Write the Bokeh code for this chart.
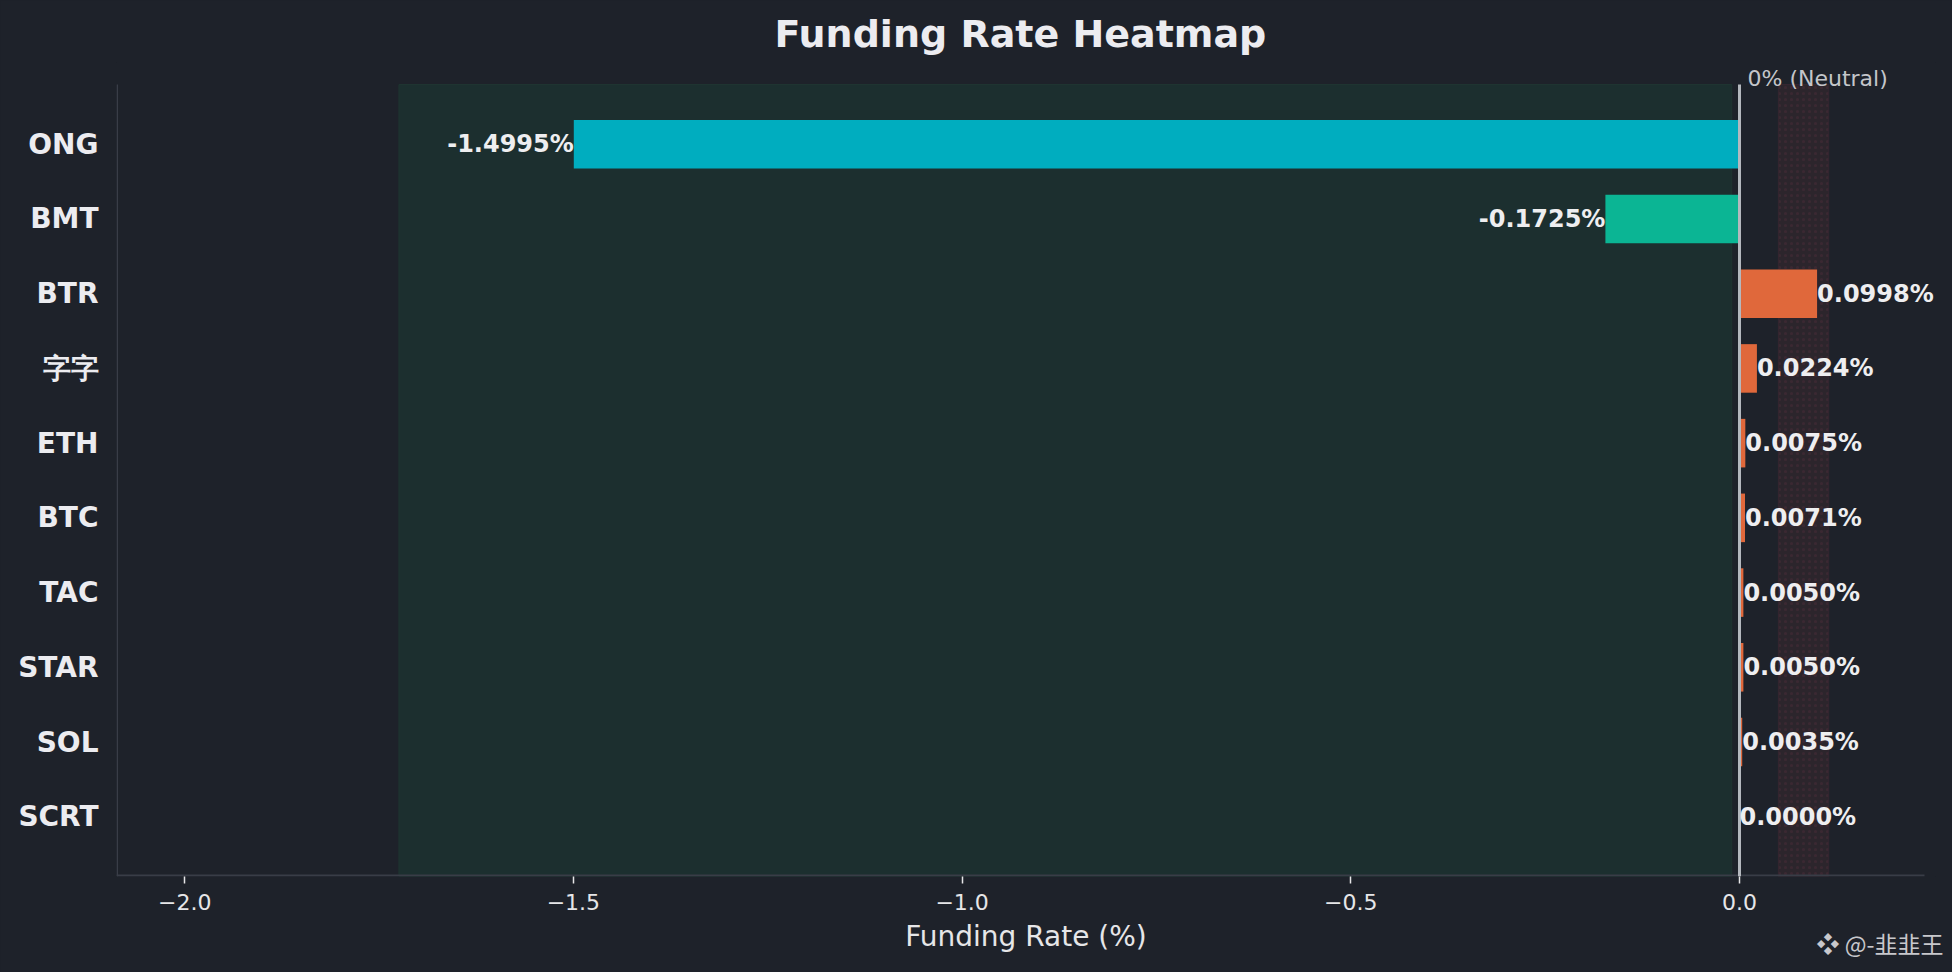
from bokeh.plotting import figure
from bokeh.models import (Range1d, FixedTicker, CustomJSTickFormatter, Title, Label,
                          ColumnDataSource)
from bokeh.core.properties import value
from bokeh.embed import file_html
from bokeh.resources import INLINE

# ---- data ----
symbols = ["ONG", "BMT", "BTR", "字字", "ETH", "BTC", "TAC", "STAR", "SOL", "SCRT"]
rates = [-1.4995, -0.1725, 0.0998, 0.0224, 0.0075, 0.0071, 0.0050, 0.0050, 0.0035, 0.0000]
x_ticks = [-2.0, -1.5, -1.0, -0.5, 0.0]
title_text = "Funding Rate Heatmap"
x_label = "Funding Rate (%)"
neutral_text = "0% (Neutral)"
watermark = "❖ @-韭韭王"

BG = "#1e222a"
FONT = "DejaVu Sans"
SPINE = "#393d47"
n = len(symbols)
ypos = [n - 1 - i for i in range(n)]  # top row first

def bar_color(v):
    if v <= -1.0:
        return "#00adbf"
    if v < 0:
        return "#0bb594"
    return "#e0683b"

colors = [bar_color(v) for v in rates]
labels = [f"{v:.4f}%" for v in rates]
aligns = ["right" if v < 0 else "left" for v in rates]

W, H = 1952, 972
FL, FR, FB = 116, 1935, 876      # frame edges (canvas px)
AX_TOP = 84                      # visible top of the axes box
FT = 62                          # frame top (room for the neutral note)
X0 = 1739                        # canvas x of 0 %
PX = 777.4                       # px per 1 %
x_lo = -(X0 - FL) / PX
x_hi = (FR - X0) / PX
axis_end = 0.238
y_lo, y_hi = -0.8, n - 1 + 0.8
px_per_y = (FB - AX_TOP) / (y_hi - y_lo)
y_top = y_hi + (AX_TOP - FT) / px_per_y

def set_standoff(t, s, fallback):
    try:
        t.standoff = s
    except Exception:
        t.standoff = fallback

p = figure(width=W, height=H, output_backend="svg", toolbar_location=None,
           x_range=Range1d(x_lo, x_hi), y_range=Range1d(y_lo, y_top),
           min_border_left=FL, min_border_right=W - FR, min_border_top=FT,
           min_border_bottom=H - FB)
p.background_fill_color = BG
p.border_fill_color = BG
p.outline_line_color = None
p.xgrid.grid_line_color = None
p.ygrid.grid_line_color = None

p.title.text = title_text
p.title.align = "left"
p.title.offset = 774 - FL
p.title.vertical_align = "bottom"
p.title.text_font = FONT
p.title.text_font_size = "38px"
p.title.text_font_style = "bold"
p.title.text_color = "#ececf0"
p.title.standoff = 13

# zones
lo_zone = min(rates) * 1.15
hi_zone = max(rates) * 1.15
p.quad(left=[lo_zone], right=[-0.01], bottom=[y_lo], top=[y_hi],
       fill_color="#1c2f2f", line_color="#1f3431", line_width=1)
p.quad(left=[0.05], right=[hi_zone], bottom=[y_lo], top=[y_hi],
       fill_color="#2c252c", line_color="#352630", line_width=1,
       hatch_pattern="dot", hatch_color="#4a2c38", hatch_alpha=0.5, hatch_scale=6)

# spines (left and bottom), drawn inside the frame
p.quad(left=[x_lo], right=[axis_end], bottom=[y_lo], top=[y_lo + 2 / px_per_y],
       fill_color=SPINE, line_color=None)
p.quad(left=[x_lo], right=[x_lo + 1.5 / PX], bottom=[y_lo], top=[y_hi],
       fill_color=SPINE, line_color=None)

src = ColumnDataSource(dict(y=ypos, v=rates, c=colors, lab=labels, al=aligns))
p.hbar(y="y", left=0, right="v", height=0.65, fill_color="c", line_color=None, source=src)

# neutral (0 %) line
p.segment(x0=[0], y0=[y_lo], x1=[0], y1=[y_hi], line_color="#b4b8be", line_width=3)
p.add_layout(Label(x=0, x_offset=8, y=y_hi + 6.3 / px_per_y, text=neutral_text,
                   text_align="left", text_baseline="alphabetic",
                   text_font=FONT, text_font_size="22px", text_color="#c4c6ca"))

p.text(x="v", y="y", text="lab", text_align="al", text_baseline="middle",
       text_font=value(FONT), text_font_size="24px", text_font_style="bold",
       text_color="#eeeef0", source=src)

# axes
p.xaxis.ticker = FixedTicker(ticks=x_ticks)
p.xaxis.formatter = CustomJSTickFormatter(
    code="return (tick < 0 ? '\\u2212' : '') + Math.abs(tick).toFixed(1);")
p.xaxis.axis_label = x_label
p.xaxis.axis_label_text_font = FONT
p.xaxis.axis_label_text_font_size = "28px"
p.xaxis.axis_label_text_font_style = "normal"
p.xaxis.axis_label_text_color = "#e6e6e8"
p.xaxis.axis_label_standoff = 7
p.xaxis.major_label_text_font = FONT
p.xaxis.major_label_text_font_size = "22px"
p.xaxis.major_label_text_color = "#e6e6e8"
p.xaxis.major_label_standoff = 10
p.xaxis.major_tick_out = 7
p.xaxis.major_tick_in = 0
p.xaxis.major_tick_line_color = "#e6e6e8"
p.xaxis.major_tick_line_width = 1.5
p.xaxis.minor_tick_line_color = None
p.xaxis.axis_line_color = None

p.yaxis.ticker = FixedTicker(ticks=ypos)
p.yaxis.major_label_overrides = {y: s for y, s in zip(ypos, symbols)}
p.yaxis.major_label_text_font = FONT
p.yaxis.major_label_text_font_size = "28px"
p.yaxis.major_label_text_font_style = "bold"
p.yaxis.major_label_text_color = "#ececf0"
p.yaxis.major_label_standoff = 18
p.yaxis.major_tick_out = 0
p.yaxis.major_tick_in = 0
p.yaxis.minor_tick_line_color = None
p.yaxis.axis_line_color = None

# watermark (panel below the x axis, pulled up beside the axis label)
wm = Title(text=watermark, align="right", vertical_align="top", offset=FR - 1943,
           text_font="Noto Sans CJK SC", text_font_size="23px", text_font_style="normal",
           text_color="#c8c8cc")
set_standoff(wm, -60, 0)
p.add_layout(wm, "below")

html = file_html(p, INLINE, title=title_text)
html = html.replace("<head>", "<head>\n<style>html, body { background-color: #1e222a; }</style>", 1)
open("out.html", "w").write(html)
